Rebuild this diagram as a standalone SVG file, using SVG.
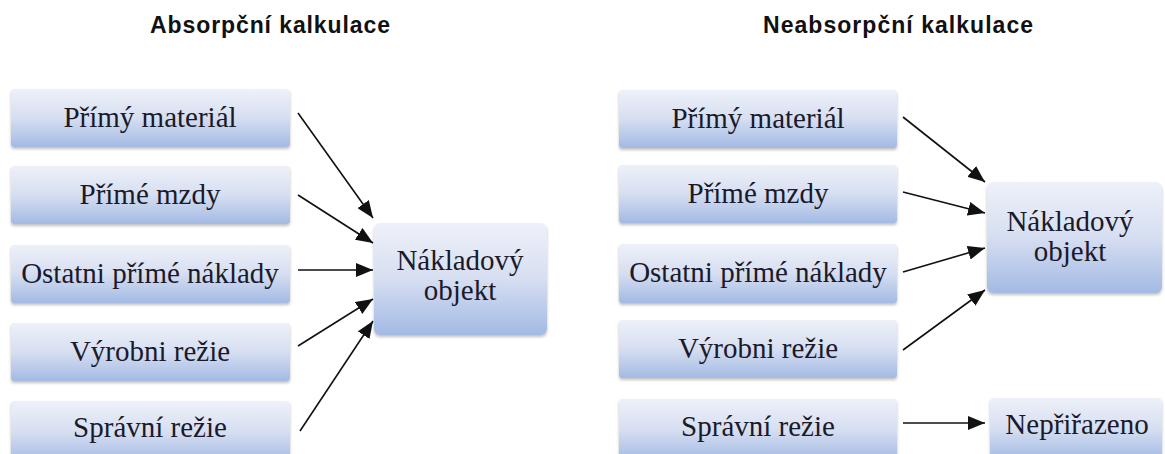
<svg xmlns="http://www.w3.org/2000/svg" width="1165" height="454" viewBox="0 0 1165 454">
  <style>
    .title { font-weight: bold; font-size: 23px; fill: #111; }
    .box { fill: url(#boxFill); filter: url(#shadow); }
    .label { font-size: 29px; fill: #1a1a2a; text-anchor: middle; }
    .conn { stroke: #111; stroke-width: 1.6; fill: none; marker-end: url(#head); }
  </style>
  <defs>
    <linearGradient id="boxFill" x1="0" y1="0" x2="0" y2="1">
      <stop offset="0" stop-color="#eef1f9"/>
      <stop offset="0.5" stop-color="#d6def1"/>
      <stop offset="1" stop-color="#a3bae4"/>
    </linearGradient>
    <filter id="shadow" x="-5%" y="-10%" width="110%" height="130%">
      <feGaussianBlur in="SourceAlpha" stdDeviation="1.5"/>
      <feOffset dx="0" dy="2" result="b"/>
      <feComponentTransfer><feFuncA type="linear" slope="0.25"/></feComponentTransfer>
      <feMerge><feMergeNode/><feMergeNode in="SourceGraphic"/></feMerge>
    </filter>
    <marker id="head" markerUnits="userSpaceOnUse" markerWidth="18" markerHeight="14" refX="17" refY="7" orient="auto">
      <path d="M0,0 L17,7 L0,14 z" fill="#111"/>
    </marker>
  </defs>

  <rect width="1165" height="454" fill="#ffffff"/>

  <!-- headings -->
  <g font-family="Liberation Sans, Arial, sans-serif">
    <text class="title" x="150" y="33" textLength="240">Absorpční kalkulace</text>
    <text class="title" x="763" y="33" textLength="270">Neabsorpční kalkulace</text>
  </g>

  <g font-family="Liberation Serif, Times New Roman, serif">
    <!-- absorption costing: cost items -->
    <g id="a-material"><rect class="box" x="11" y="89" width="279" height="58" rx="3"/><text class="label" x="150" y="127">Přímý materiál</text></g>
    <g id="a-mzdy"><rect class="box" x="11" y="166" width="279" height="58" rx="3"/><text class="label" x="150" y="204">Přímé mzdy</text></g>
    <g id="a-ostatni"><rect class="box" x="11" y="245" width="279" height="58" rx="3"/><text class="label" x="150" y="283">Ostatni přímé náklady</text></g>
    <g id="a-vyrobni"><rect class="box" x="11" y="323" width="279" height="58" rx="3"/><text class="label" x="150" y="361">Výrobni režie</text></g>
    <g id="a-spravni"><rect class="box" x="11" y="401" width="279" height="62" rx="3"/><text class="label" x="150" y="437">Správní režie</text></g>
    <g id="a-objekt"><rect class="box" x="374" y="223" width="173" height="112" rx="6"/><text class="label" x="460" y="270">Nákladový</text><text class="label" x="460" y="300">objekt</text></g>

    <!-- variable costing: cost items -->
    <g id="n-material"><rect class="box" x="619" y="90" width="278" height="58" rx="3"/><text class="label" x="758" y="128">Přímý materiál</text></g>
    <g id="n-mzdy"><rect class="box" x="619" y="165" width="278" height="58" rx="3"/><text class="label" x="758" y="203">Přímé mzdy</text></g>
    <g id="n-ostatni"><rect class="box" x="619" y="244" width="278" height="59" rx="3"/><text class="label" x="758" y="282">Ostatni přímé náklady</text></g>
    <g id="n-vyrobni"><rect class="box" x="619" y="320" width="278" height="58" rx="3"/><text class="label" x="758" y="358">Výrobni režie</text></g>
    <g id="n-spravni"><rect class="box" x="619" y="399" width="278" height="62" rx="3"/><text class="label" x="758" y="436">Správní režie</text></g>
    <g id="n-objekt"><rect class="box" x="987" y="182" width="175" height="111" rx="6"/><text class="label" x="1070" y="231">Nákladový</text><text class="label" x="1070" y="261">objekt</text></g>
    <g id="n-neprirazeno"><rect class="box" x="990" y="398" width="172" height="62" rx="4"/><text class="label" x="1077" y="434">Nepřiřazeno</text></g>
  </g>

  <!-- connectors -->
  <g id="connectors">
    <line class="conn" x1="298" y1="113" x2="373" y2="218"/>
    <line class="conn" x1="298" y1="195" x2="373" y2="243"/>
    <line class="conn" x1="298" y1="270" x2="373" y2="270"/>
    <line class="conn" x1="298" y1="346" x2="373" y2="299"/>
    <line class="conn" x1="300" y1="431" x2="373" y2="321"/>

    <line class="conn" x1="903" y1="117" x2="985" y2="182"/>
    <line class="conn" x1="903" y1="192" x2="985" y2="213"/>
    <line class="conn" x1="903" y1="272" x2="985" y2="248"/>
    <line class="conn" x1="903" y1="350" x2="985" y2="290"/>
    <line class="conn" x1="903" y1="423" x2="985" y2="423"/>
  </g>
</svg>
